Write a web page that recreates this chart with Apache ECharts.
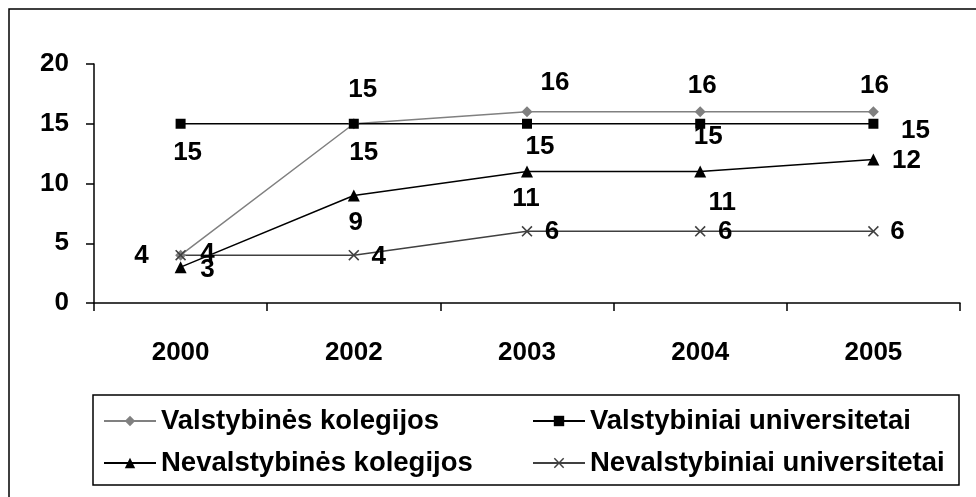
<!DOCTYPE html>
<html>
<head>
<meta charset="utf-8">
<script src="https://cdn.jsdelivr.net/npm/echarts@6/dist/echarts.min.js"></script>
<style>
  html, body { margin: 0; padding: 0; background: #fff; }
  #chart { width: 976px; height: 497px; }
</style>
</head>
<body>
<div id="chart"></div>
<script>
// Years on the category axis
const years = ['2000', '2002', '2003', '2004', '2005'];

// Number of institutions per type
const valstybinesKolegijos = [4, 15, 16, 16, 16];
const valstybiniaiUniversitetai = [15, 15, 15, 15, 15];
const nevalstybinesKolegijos = [3, 9, 11, 11, 12];
const nevalstybiniaiUniversitetai = [4, 4, 6, 6, 6];

// Value axis ticks
const yTicks = { min: 0, max: 20, interval: 5 };

// Where each value label sits relative to its marker (px)
const offsetsVK = [[-39, 1], [9, -34], [28, -29], [2, -26], [1, -26]];
const offsetsVU = [[7, 29], [10, 29], [13, 23], [8, 13], [42, 7]];
const offsetsNK = [[27, 3], [2, 27], [-1, 27], [22, 31], [33, 1]];
const offsetsNU = [[27, -1], [25, 2], [25, 1], [25, 1], [24, 1]];

const FONT = 'Liberation Sans, Arial, sans-serif';
const crossPath = 'path://M0,1L1,0L5,4L9,0L10,1L6,5L10,9L9,10L5,6L1,10L0,9L4,5Z';

function withLabels(values, offsets) {
  return values.map((v, i) => ({ value: v, label: { offset: offsets[i] } }));
}

function lineSeries(name, values, offsets, color, symbol, symbolSize) {
  return {
    name: name,
    type: 'line',
    data: withLabels(values, offsets),
    symbol: symbol,
    symbolSize: symbolSize,
    showAllSymbol: true,
    lineStyle: { color: color, width: 1.5 },
    itemStyle: { color: color },
    label: {
      show: true,
      position: 'inside',
      color: '#000',
      fontFamily: FONT,
      fontWeight: 'bold',
      fontSize: 26
    },
    emphasis: { disabled: true },
    animation: false
  };
}

const chart = echarts.init(document.getElementById('chart'), null, { renderer: 'canvas' });

chart.setOption({
  backgroundColor: '#fff',
  animation: false,
  graphic: [{
    type: 'rect',
    silent: true,
    shape: { x: 9, y: 9, width: 1000, height: 600 },
    style: { fill: 'none', stroke: '#000', lineWidth: 1.5 }
  }],
  grid: { left: 94, right: 16, top: 64, bottom: 194 },
  legend: {
    left: 93,
    top: 395,
    width: 860,
    orient: 'horizontal',
    padding: [8, 4, 4, 10],
    itemGap: 6,
    itemWidth: 52,
    itemHeight: 13,
    borderColor: '#000',
    borderWidth: 1.5,
    textStyle: {
      color: '#000',
      fontFamily: FONT,
      fontWeight: 'bold',
      fontSize: 27.5,
      width: 365,
      lineHeight: 36
    },
    data: ['Valstybinės kolegijos', 'Valstybiniai universitetai', 'Nevalstybinės kolegijos', 'Nevalstybiniai universitetai']
  },
  xAxis: {
    type: 'category',
    data: years,
    boundaryGap: true,
    axisLine: { lineStyle: { color: '#000', width: 1.5 } },
    axisTick: { show: true, inside: false, length: 8, alignWithLabel: false, lineStyle: { color: '#000', width: 1.5 } },
    axisLabel: { color: '#000', fontFamily: FONT, fontWeight: 'bold', fontSize: 26, margin: 37 },
    splitLine: { show: false }
  },
  yAxis: {
    type: 'value',
    min: yTicks.min,
    max: yTicks.max,
    interval: yTicks.interval,
    axisLine: { show: true, lineStyle: { color: '#000', width: 1.5 } },
    axisTick: { show: true, inside: false, length: 8, lineStyle: { color: '#000', width: 1.5 } },
    axisLabel: { color: '#000', fontFamily: FONT, fontWeight: 'bold', fontSize: 26, margin: 25 },
    splitLine: { show: false }
  },
  series: [
    lineSeries('Valstybinės kolegijos', valstybinesKolegijos, offsetsVK, '#808080', 'diamond', 11),
    lineSeries('Valstybiniai universitetai', valstybiniaiUniversitetai, offsetsVU, '#000000', 'rect', 10),
    lineSeries('Nevalstybinės kolegijos', nevalstybinesKolegijos, offsetsNK, '#000000', 'triangle', 12),
    lineSeries('Nevalstybiniai universitetai', nevalstybiniaiUniversitetai, offsetsNU, '#404040', crossPath, 11)
  ]
});
</script>
</body>
</html>
